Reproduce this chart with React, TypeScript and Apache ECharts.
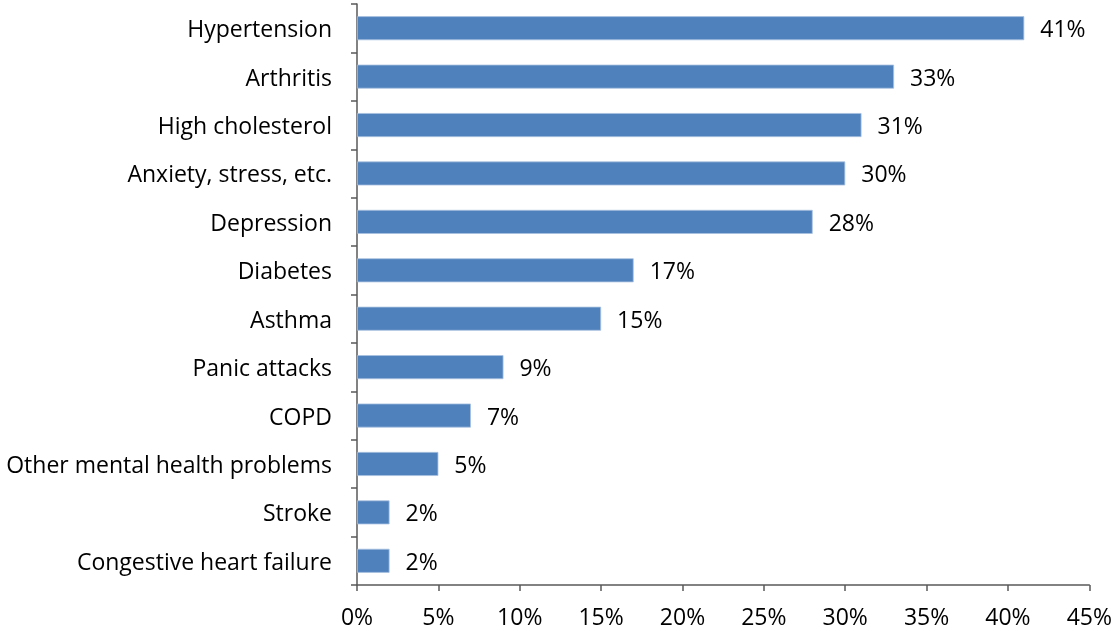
import React, { useEffect, useRef } from "react";
import * as echarts from "echarts";

const categories = [
  "Hypertension",
  "Arthritis",
  "High cholesterol",
  "Anxiety, stress, etc.",
  "Depression",
  "Diabetes",
  "Asthma",
  "Panic attacks",
  "COPD",
  "Other mental health problems",
  "Stroke",
  "Congestive heart failure",
];
const values = [41, 33, 31, 30, 28, 17, 15, 9, 7, 5, 2, 2];

const FONT = "'Open Sans', sans-serif";
const FS = 23;

export default function App() {
  const ref = useRef<HTMLDivElement>(null);
  useEffect(() => {
    if (!ref.current) return;
    const chart = echarts.init(ref.current, undefined, { renderer: "svg" });
    chart.setOption({
      animation: false,
      grid: { left: 357, right: 24, top: 4, bottom: 46, containLabel: false },
      xAxis: {
        type: "value",
        min: 0,
        max: 45,
        interval: 5,
        splitLine: { show: false },
        axisLine: { show: true, lineStyle: { color: "#595959", width: 1.5 } },
        axisTick: { show: true, length: 6, lineStyle: { color: "#595959", width: 1.5 } },
        axisLabel: {
          formatter: "{value}%",
          color: "#000",
          fontSize: FS,
          fontFamily: FONT,
          margin: 20,
          lineHeight: 22,
        },
      },
      yAxis: {
        type: "category",
        data: categories,
        inverse: true,
        axisLine: { show: true, lineStyle: { color: "#595959", width: 1.5 } },
        axisTick: { show: true, length: 6, alignWithLabel: false, lineStyle: { color: "#595959", width: 1.5 } },
        axisLabel: {
          color: "#000",
          fontSize: FS,
          fontFamily: FONT,
          margin: 25,
        },
      },
      series: [
        {
          type: "bar",
          data: values,
          barWidth: 24,
          itemStyle: { color: "#4F81BD", borderColor: "#A9C1DF", borderWidth: 0.8 },
          label: {
            show: true,
            position: "right",
            distance: 16,
            formatter: "{c}%",
            color: "#000",
            fontSize: FS,
            fontFamily: FONT,
          },
        },
      ],
    });
    return () => chart.dispose();
  }, []);
  return (
    <div
      ref={ref}
      style={{ position: "fixed", left: 0, top: 0, width: 1115, height: 631 }}
    />
  );
}
